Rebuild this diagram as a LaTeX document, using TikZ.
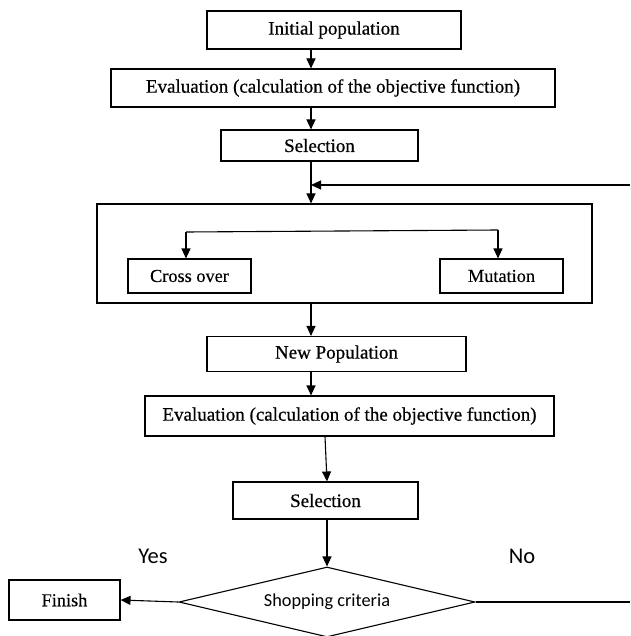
\documentclass[tikz,border=0pt]{standalone}
\usepackage{fontspec}
\setmainfont{Liberation Serif}[FakeBold=0.6]
\newfontfamily\plainf{Liberation Serif}[FakeBold=0.25]
\newfontfamily\sansf{Carlito}
\usetikzlibrary{arrows.meta,shapes.geometric}
\tikzset{
  box/.style={draw, line width=1.1pt, rectangle, inner sep=0pt, align=center,
    font=\fontsize{19}{21}\selectfont},
  sbox/.style={box, font=\plainf\fontsize{18.3}{20}\selectfont},
  con/.style={line width=1.1pt},
  arr/.style={line width=1.1pt, -{Triangle[length=10pt,width=9pt]}},
  lab/.style={font=\sansf\fontsize{22.5}{24}\selectfont, inner sep=0pt},
}
\begin{document}
\begin{tikzpicture}[x=1pt,y=-1pt]
\useasboundingbox (0,0) rectangle (630,636);
% nodes
\node[box, minimum width=254pt, minimum height=38pt] (init) at (334,30) {Initial population};
\node[box, minimum width=444pt, minimum height=38pt] (eval1) at (333,88) {Evaluation (calculation of the objective function)};
\node[box, minimum width=197pt, minimum height=31pt] (sel1) at (319.5,145.5) {Selection};
\node[box, minimum width=495pt, minimum height=99pt] (big) at (344.5,253.5) {};
\node[sbox, minimum width=123pt, minimum height=34pt] (cross) at (189.5,276) {Cross over};
\node[sbox, minimum width=123pt, minimum height=34pt] (mut) at (501.5,276) {Mutation};
\node[box, minimum width=259pt, minimum height=35pt] (newpop) at (336.5,354) {New Population};
\node[box, minimum width=409pt, minimum height=40pt] (eval2) at (349.5,416) {Evaluation (calculation of the objective function)};
\node[box, minimum width=185pt, minimum height=37pt] (sel2) at (325.5,500.5) {Selection};
\node[draw, line width=1.1pt, diamond, inner sep=0pt, aspect=4.23, minimum width=296pt, minimum height=70pt,
  font=\sansf\fontsize{18.3}{20}\selectfont] (dia) at (327,602) {Shopping criteria};
\node[sbox, minimum width=111pt, minimum height=40pt] (finish) at (64.5,600) {Finish};
\node[lab] (yes) at (153,556) {Yes};
\node[lab] (no) at (522,556) {No};
% helper coordinates
\coordinate (spine) at (311,0);
\coordinate (fbR) at (630,185);
\coordinate (noR) at (630,602);
\coordinate (brL) at (186,232);
\coordinate (brR) at (498,230);
\coordinate (e2out) at (325,0);
% connectors
\draw[arr] (init.south -| spine) -- (eval1.north -| spine);
\draw[arr] (eval1.south -| spine) -- (sel1.north -| spine);
\draw[arr] (sel1.south -| spine) -- (big.north -| spine);
\draw[arr] (fbR) -- (fbR -| spine);
\draw[con] (brL) -- (brR);
\draw[arr] (brL) -- (brL |- cross.north);
\draw[arr] (brR) -- (brR |- mut.north);
\draw[arr] (big.south -| spine) -- (newpop.north -| spine);
\draw[arr] (newpop.south -| spine) -- (eval2.north -| spine);
\draw[arr] (eval2.south -| e2out) -- (sel2.north -| dia.north);
\draw[arr] (sel2.south -| dia.north) -- (dia.north);
\draw[arr] (dia.west) -- (finish.east);
\draw[con] (dia.east) -- (noR);
\end{tikzpicture}
\end{document}
